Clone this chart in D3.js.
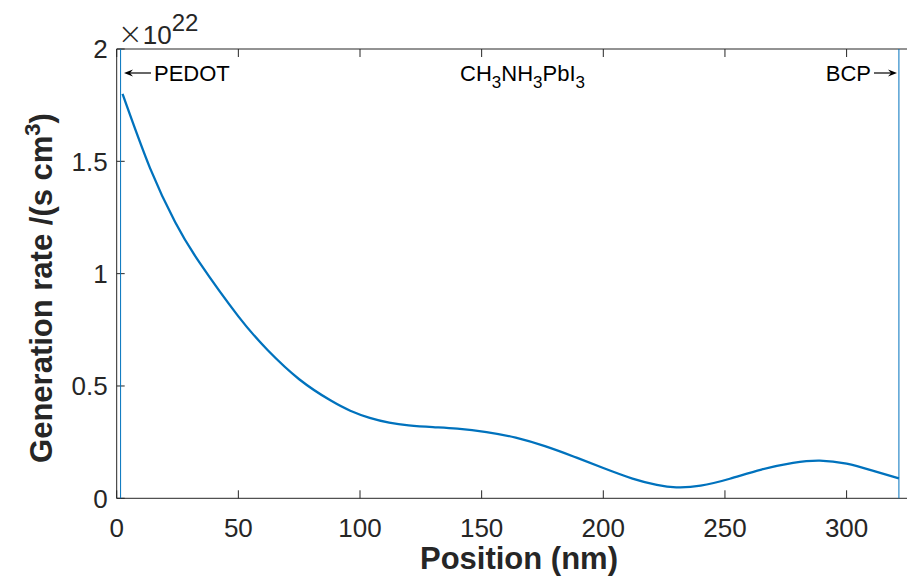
<!DOCTYPE html>
<html lang="en">
  <head>
    <meta charset="UTF-8" />
    <script src="https://d3js.org/d3.v7.min.js"></script>
    <title>Generation rate</title>
    <style>
      body { margin: 0; background: #fff; }
      svg text { font-family: "Liberation Sans", Arial, Helvetica, sans-serif; }
      .tick-label { font-size: 26px; fill: #262626; }
      .axis-title { font-size: 31px; font-weight: bold; fill: #262626; }
      .note { font-size: 22px; fill: #000; }
    </style>
  </head>
  <body>
    <svg id="chart" width="907" height="576"></svg>
    <script>
      // position across the device stack (nm) and generation rate (x 1e22 per s cm^3)
      const positions = [2.4, 13.7, 24, 34, 50, 62, 75, 88, 96, 104, 112, 120, 130, 140,
        152, 164, 176, 188, 200, 212, 222, 230, 240, 252, 265, 278, 289, 300, 311, 321.5];
      const genRate = [1.80, 1.47, 1.23, 1.05, 0.81, 0.66, 0.53, 0.435, 0.39, 0.358, 0.337,
        0.325, 0.317, 0.31, 0.295, 0.27, 0.232, 0.185, 0.135, 0.088, 0.06, 0.049, 0.056,
        0.087, 0.128, 0.158, 0.168, 0.154, 0.122, 0.089];
      const xTicks = [0, 50, 100, 150, 200, 250, 300];
      const yTicks = [0, 0.5, 1, 1.5, 2];
      const layerEdges = [1.6, 321.5]; // PEDOT | perovskite | BCP
      const exponent = 22;

      const svg = d3.select("#chart");
      const plotLeft = 116.7, plotTop = 49, plotBottom = 498.3;
      const axisColor = "#262626";
      const lineColor = "#0072BD";

      const x = d3.scaleLinear().domain([0, 325.2]).range([plotLeft, plotLeft + 325.2 * 2.433]);
      const y = d3.scaleLinear().domain([0, 2]).range([plotBottom, plotTop]);

      // box (top + left + bottom; right edge falls outside the picture)
      const box = svg.append("g").attr("stroke", axisColor).attr("stroke-width", 1);
      box.append("line").attr("x1", x(0)).attr("x2", x(325.2)).attr("y1", y(0)).attr("y2", y(0));
      box.append("line").attr("x1", x(0)).attr("x2", x(325.2)).attr("y1", y(2)).attr("y2", y(2));
      box.append("line").attr("x1", x(0)).attr("x2", x(0)).attr("y1", y(0)).attr("y2", y(2));

      // inward ticks, bottom and top
      xTicks.forEach((t) => {
        box.append("line").attr("x1", x(t)).attr("x2", x(t)).attr("y1", y(0)).attr("y2", y(0) - 8);
        box.append("line").attr("x1", x(t)).attr("x2", x(t)).attr("y1", y(2)).attr("y2", y(2) + 8);
      });
      yTicks.forEach((t) => {
        box.append("line").attr("x1", x(0)).attr("x2", x(0) + 8).attr("y1", y(t)).attr("y2", y(t));
      });

      svg.selectAll(".xlab").data(xTicks).enter().append("text")
        .attr("class", "tick-label")
        .attr("x", (d) => x(d))
        .attr("y", y(0) + 39)
        .attr("text-anchor", "middle")
        .text((d) => d);

      svg.selectAll(".ylab").data(yTicks).enter().append("text")
        .attr("class", "tick-label")
        .attr("x", x(0) - 9)
        .attr("y", (d) => y(d) + 9.4)
        .attr("text-anchor", "end")
        .text((d) => d);

      // exponent label
      const expo = svg.append("text").attr("class", "tick-label").attr("x", x(0) + 1).attr("y", 44);
      expo.append("tspan").attr("font-size", "30px").attr("font-family", "DejaVu Sans")
        .attr("font-weight", "200").text("\u00d7");
      expo.append("tspan").text("10");
      expo.append("tspan").attr("font-size", "24px").attr("dy", -13).text(exponent);

      // axis titles
      svg.append("text").attr("class", "axis-title")
        .attr("x", 519).attr("y", 569)
        .attr("text-anchor", "middle")
        .text("Position (nm)");

      const yt = svg.append("text").attr("class", "axis-title")
        .attr("transform", "translate(52,288) rotate(-90)")
        .attr("text-anchor", "middle");
      yt.append("tspan").text("Generation rate /(s cm");
      yt.append("tspan").attr("font-size", "22px").attr("dy", -12).text("3");
      yt.append("tspan").attr("dy", 12).text(")");

      // layer boundaries
      svg.selectAll(".edge").data(layerEdges).enter().append("line")
        .attr("x1", (d) => x(d)).attr("x2", (d) => x(d))
        .attr("y1", y(0)).attr("y2", y(2))
        .attr("stroke", lineColor).attr("stroke-width", 1);

      // generation profile
      const line = d3.line()
        .x((d, i) => x(positions[i]))
        .y((d) => y(d))
        .curve(d3.curveNatural);
      svg.append("path").datum(genRate)
        .attr("d", line)
        .attr("fill", "none")
        .attr("stroke", lineColor)
        .attr("stroke-width", 2.3);

      // layer annotations
      function arrow(x1, x2, yy) {
        const dir = Math.sign(x2 - x1);
        svg.append("line").attr("x1", x1).attr("x2", x2 - dir * 4).attr("y1", yy).attr("y2", yy)
          .attr("stroke", "#000").attr("stroke-width", 1.2);
        svg.append("path")
          .attr("d", `M${x2},${yy} L${x2 - dir * 9},${yy - 3.5} L${x2 - dir * 6},${yy} L${x2 - dir * 9},${yy + 3.5} Z`)
          .attr("fill", "#000");
      }
      arrow(151, 124, 73);
      svg.append("text").attr("class", "note").attr("x", 154).attr("y", 81).text("PEDOT");

      const pv = svg.append("text").attr("class", "note").attr("x", 460).attr("y", 81);
      [["CH", 0], ["3", 1], ["NH", 0], ["3", 1], ["PbI", 0], ["3", 1]].forEach(([s, sub], i, arr) => {
        const prevSub = i > 0 && arr[i - 1][1];
        pv.append("tspan")
          .attr("font-size", sub ? "17px" : "22px")
          .attr("dy", sub ? 7 : (prevSub ? -7 : 0))
          .text(s);
      });

      svg.append("text").attr("class", "note").attr("x", 871).attr("y", 81)
        .attr("text-anchor", "end").text("BCP");
      arrow(874, 897, 73);
    </script>
  </body>
</html>
